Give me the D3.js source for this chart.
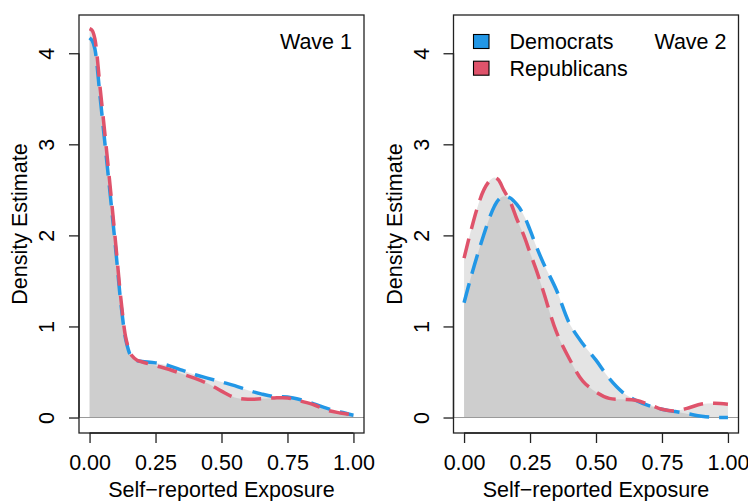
<!DOCTYPE html>
<html>
<head>
<meta charset="utf-8">
<script src="https://cdn.jsdelivr.net/npm/d3@7/dist/d3.min.js"></script>
<style>
  html, body { margin: 0; padding: 0; background: #fff; }
  svg text { font-family: "Liberation Sans", Arial, Helvetica, sans-serif; fill: #000; }
</style>
</head>
<body>
<svg id="chart" width="748" height="501"></svg>
<script>
// Exposure grid and kernel density estimates, wave 1
const wave1Exposure = [0, 0.01, 0.02, 0.04, 0.06, 0.08, 0.10, 0.12, 0.14, 0.16, 0.18, 0.20,
  0.25, 0.30, 0.35, 0.40, 0.45, 0.50, 0.55, 0.60, 0.65, 0.70, 0.75, 0.80, 0.85, 0.90, 0.95, 1.00];
const wave1Democrats = [4.17, 4.14, 4.05, 3.52, 2.96, 2.40, 1.82, 1.22, 0.82, 0.66, 0.625, 0.615,
  0.60, 0.57, 0.52, 0.47, 0.43, 0.39, 0.35, 0.30, 0.26, 0.23, 0.225, 0.195, 0.15, 0.10, 0.06, 0.025];
const wave1Republicans = [4.27, 4.25, 4.16, 3.62, 3.06, 2.48, 1.88, 1.27, 0.84, 0.68, 0.63, 0.61,
  0.57, 0.53, 0.48, 0.43, 0.37, 0.29, 0.22, 0.20, 0.205, 0.215, 0.215, 0.18, 0.14, 0.08, 0.05, 0.03];

// Exposure grid and kernel density estimates, wave 2
const wave2Exposure = [0, 0.025, 0.05, 0.075, 0.10, 0.115, 0.13, 0.15, 0.175, 0.20, 0.225, 0.25, 0.275,
  0.30, 0.35, 0.40, 0.45, 0.50, 0.55, 0.60, 0.65, 0.70, 0.75, 0.80, 0.85, 0.90, 0.95, 1.00];
const wave2Democrats = [1.26, 1.53, 1.78, 2.01, 2.22, 2.32, 2.39, 2.43, 2.41, 2.34, 2.23, 2.06, 1.87,
  1.70, 1.40, 1.03, 0.81, 0.63, 0.43, 0.28, 0.19, 0.13, 0.09, 0.065, 0.04, 0.015, 0.0, 0.0];
const wave2Republicans = [1.75, 2.04, 2.30, 2.50, 2.61, 2.635, 2.61, 2.50, 2.37, 2.18, 2.01, 1.81, 1.61,
  1.39, 0.94, 0.64, 0.40, 0.28, 0.21, 0.20, 0.19, 0.145, 0.09, 0.072, 0.105, 0.148, 0.157, 0.146];

const panelTitles = ["Wave 1", "Wave 2"];
const seriesNames = ["Democrats", "Republicans"];
const seriesColors = ["#2297E6", "#DF536B"];
const xTickValues = [0, 0.25, 0.5, 0.75, 1];
const yTickValues = [0, 1, 2, 3, 4];
const xLabel = "Self\u2212reported Exposure";
const yLabel = "Density Estimate";

const panels = [
  { title: panelTitles[0], x: wave1Exposure, series: [wave1Democrats, wave1Republicans], legend: false },
  { title: panelTitles[1], x: wave2Exposure, series: [wave2Democrats, wave2Republicans], legend: true }
];

const svg = d3.select("#chart");
const fontSize = 21.5;
const curve = d3.curveCatmullRom.alpha(0.5);

// R-style axis limits: data range padded by 4% on each side
function padded(lo, hi) {
  const d = (hi - lo) * 0.04;
  return [lo - d, hi + d];
}
const xLim = padded(0, 1);
const yLim = padded(0, 4.25);

const boxTop = 15, boxBottom = 433;
const boxLefts = [79, 453.5];
const boxWidth = 285;

panels.forEach((p, i) => {
  const left = boxLefts[i], right = left + boxWidth;
  const x = d3.scaleLinear().domain(xLim).range([left, right]);
  const y = d3.scaleLinear().domain(yLim).range([boxBottom, boxTop]);
  const g = svg.append("g");

  const pts = p.x.map((v, k) => k);

  // shaded density areas (overlap reads darker)
  p.series.forEach(s => {
    const area = d3.area()
      .x(k => x(p.x[k]))
      .y0(y(0))
      .y1(k => y(s[k]))
      .curve(curve);
    g.append("path")
      .attr("d", area(pts))
      .attr("fill", "#7f7f7f")
      .attr("fill-opacity", 0.21)
      .attr("stroke", "none");
  });

  // zero reference line
  g.append("line")
    .attr("x1", left).attr("x2", right)
    .attr("y1", y(0)).attr("y2", y(0))
    .attr("stroke", "#9a9a9a").attr("stroke-width", 1.2);

  // dashed density curves
  p.series.forEach((s, j) => {
    const line = d3.line()
      .x(k => x(p.x[k]))
      .y(k => y(s[k]))
      .curve(curve);
    g.append("path")
      .attr("d", line(pts))
      .attr("fill", "none")
      .attr("stroke", seriesColors[j])
      .attr("stroke-width", 3.5)
      .attr("stroke-dasharray", "20 10");
  });

  // plot frame
  g.append("rect")
    .attr("x", left).attr("y", boxTop)
    .attr("width", boxWidth).attr("height", boxBottom - boxTop)
    .attr("fill", "none").attr("stroke", "#222").attr("stroke-width", 1.3);

  // x axis
  const xAxis = d3.axisBottom(x).tickValues(xTickValues)
    .tickFormat(d3.format(".2f")).tickSize(10).tickPadding(8);
  const xa = g.append("g").attr("transform", `translate(0,${boxBottom})`).call(xAxis);
  xa.select(".domain").attr("d", `M${x(0)},0H${x(1)}`).attr("stroke", "#222").attr("stroke-width", 1.3);
  xa.selectAll(".tick line").attr("stroke", "#222").attr("stroke-width", 1.3);
  xa.selectAll(".tick text")
    .attr("font-size", fontSize)
    .attr("font-family", "Liberation Sans, Arial, sans-serif")
    .attr("fill", "#000")
    .attr("dy", null)
    .attr("y", 37);

  // y axis with rotated tick labels
  const yAxis = d3.axisLeft(y).tickValues(yTickValues).tickSize(10).tickFormat(d3.format("d"));
  const ya = g.append("g").attr("transform", `translate(${left},0)`).call(yAxis);
  ya.select(".domain").attr("d", `M0,${y(0)}V${y(4)}`).attr("stroke", "#222").attr("stroke-width", 1.3);
  ya.selectAll(".tick line").attr("stroke", "#222").attr("stroke-width", 1.3);
  ya.selectAll(".tick text")
    .attr("font-size", fontSize)
    .attr("font-family", "Liberation Sans, Arial, sans-serif")
    .attr("fill", "#000")
    .attr("x", null).attr("dy", null)
    .attr("text-anchor", "middle")
    .attr("transform", "translate(-25,0) rotate(-90)");

  // axis titles
  g.append("text")
    .attr("x", (left + right) / 2).attr("y", 497)
    .attr("text-anchor", "middle").attr("font-size", fontSize)
    .text(xLabel);
  g.append("text")
    .attr("transform", `translate(${left - 52},${(boxTop + boxBottom) / 2}) rotate(-90)`)
    .attr("text-anchor", "middle").attr("font-size", fontSize)
    .text(yLabel);

  // panel title
  g.append("text")
    .attr("x", right - 12).attr("y", 49)
    .attr("text-anchor", "end").attr("font-size", fontSize)
    .text(p.title);

  // legend
  if (p.legend) {
    seriesNames.forEach((name, j) => {
      const ly = 34.5 + j * 26.7;
      g.append("rect")
        .attr("x", left + 20).attr("y", ly)
        .attr("width", 15.5).attr("height", 14)
        .attr("fill", seriesColors[j]).attr("stroke", "#000").attr("stroke-width", 1.1);
      g.append("text")
        .attr("x", left + 56).attr("y", ly + 14.8)
        .attr("font-size", fontSize)
        .text(name);
    });
  }
});
</script>
</body>
</html>
